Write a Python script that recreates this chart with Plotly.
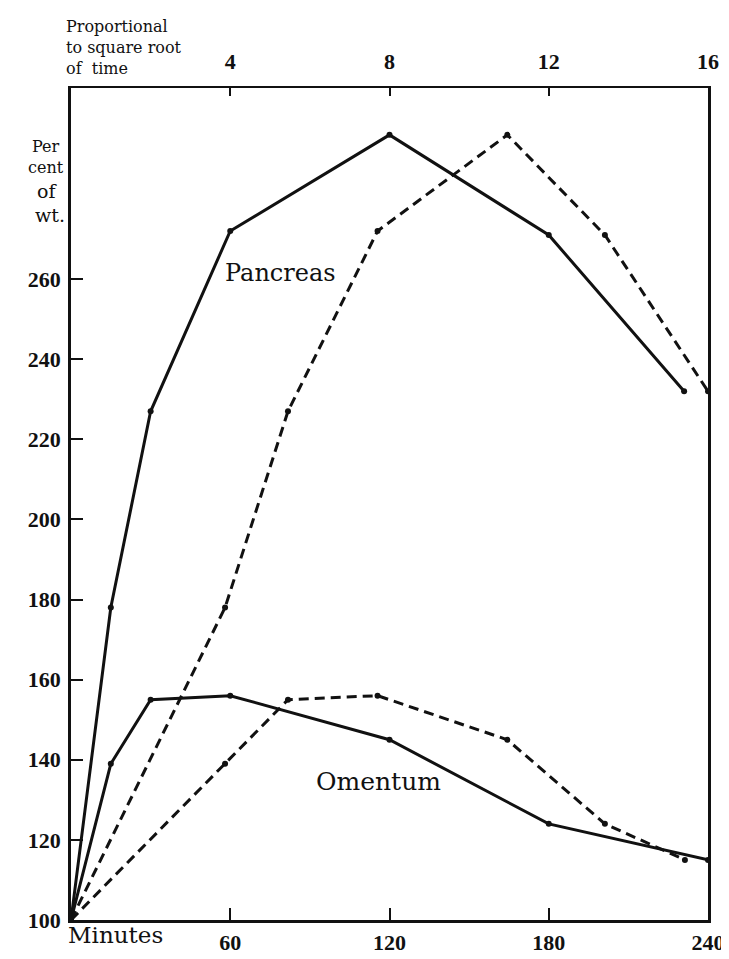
import plotly.graph_objects as go

# --- data ---
minutes_ticks = [60, 120, 180, 240]
sqrt_ticks = [4, 8, 12, 16]
y_ticks = [100, 120, 140, 160, 180, 200, 220, 240, 260]

# solid lines: plotted against time in minutes (bottom axis)
pancreas_minutes = [0, 15, 30, 60, 120, 180, 231]
pancreas_values = [100, 178, 227, 272, 296, 271, 232]
omentum_minutes = [0, 15, 30, 60, 120, 180, 240]
omentum_values = [100, 139, 155, 156, 145, 124, 115]

# dashed lines: same values plotted proportional to square root of time (top axis)
pancreas_sqrt = [0, 3.87, 5.45, 7.7, 10.96, 13.41, 16.0]
omentum_sqrt = [0, 3.87, 5.45, 7.7, 10.96, 13.41, 15.42]

FONT = "DejaVu Serif"
NUMFONT = "Liberation Serif"
BLACK = "#111111"

fig = go.Figure()

line_w = 3
marker = dict(size=6, color=BLACK)

fig.add_trace(go.Scatter(x=pancreas_minutes, y=pancreas_values, mode="lines+markers",
                         line=dict(color=BLACK, width=line_w), marker=marker,
                         xaxis="x", yaxis="y", showlegend=False, cliponaxis=False))
fig.add_trace(go.Scatter(x=omentum_minutes, y=omentum_values, mode="lines+markers",
                         line=dict(color=BLACK, width=line_w), marker=marker,
                         xaxis="x", yaxis="y", showlegend=False, cliponaxis=False))
fig.add_trace(go.Scatter(x=pancreas_sqrt, y=pancreas_values, mode="lines+markers",
                         line=dict(color=BLACK, width=line_w, dash="10px,6px"), marker=marker,
                         xaxis="x2", yaxis="y", showlegend=False, cliponaxis=False))
fig.add_trace(go.Scatter(x=omentum_sqrt, y=omentum_values, mode="lines+markers",
                         line=dict(color=BLACK, width=line_w, dash="10px,6px"), marker=marker,
                         xaxis="x2", yaxis="y", showlegend=False, cliponaxis=False))

tickfont = dict(family=NUMFONT, size=22, color=BLACK, weight="bold")

fig.update_layout(
    width=729, height=959,
    margin=dict(l=63, r=19, t=80, b=26, pad=0),
    paper_bgcolor="white", plot_bgcolor="white",
    font=dict(family=FONT, color=BLACK),
    xaxis=dict(range=[0, 240], tickvals=minutes_ticks, ticktext=[str(v) for v in minutes_ticks],
               ticks="inside", ticklen=12, tickwidth=2, tickcolor=BLACK,
               showline=True, linewidth=2.5, linecolor=BLACK, mirror=False,
               showgrid=False, zeroline=False, tickfont=tickfont, ticklabelstandoff=1),
    xaxis2=dict(range=[0, 16], overlaying="x", side="top", tickvals=sqrt_ticks,
                ticktext=[str(v) for v in sqrt_ticks],
                ticks="inside", ticklen=8, tickwidth=2, tickcolor=BLACK,
                showline=True, linewidth=2, linecolor=BLACK,
                showgrid=False, zeroline=False, tickfont=tickfont, ticklabelstandoff=8),
    yaxis=dict(range=[100, 307.7], tickvals=y_ticks, ticktext=[str(v) for v in y_ticks],
               ticks="inside", ticklen=12, tickwidth=2, tickcolor=BLACK,
               showline=True, linewidth=2.5, linecolor=BLACK, mirror=True,
               showgrid=False, zeroline=False, tickfont=tickfont, ticklabelstandoff=3),
)


def py(pix):
    """paper y from a pixel row of the 959-high figure (plot area 80..933)"""
    return (933 - pix) / 853


def px(pix):
    return (pix - 63) / 647


annots = [
    dict(text="Proportional<br>to square root<br>of  time", xref="paper", yref="paper",
         x=px(56), y=py(5), xanchor="left", yanchor="top", align="left",
         font=dict(family=FONT, size=16, color=BLACK), showarrow=False),
    dict(text="Per<br>cent", xref="paper", yref="paper", x=px(38), y=py(128),
         xanchor="center", yanchor="top", align="center",
         font=dict(family=FONT, size=16, color=BLACK), showarrow=False),
    dict(text="of", xref="paper", yref="paper", x=px(39), y=py(186),
         xanchor="center", yanchor="middle", font=dict(family=FONT, size=19, color=BLACK), showarrow=False),
    dict(text="wt.", xref="paper", yref="paper", x=px(42), y=py(210),
         xanchor="center", yanchor="middle", font=dict(family=FONT, size=19, color=BLACK), showarrow=False),
    dict(text="Minutes", xref="paper", yref="paper", x=px(58), y=py(948),
         xanchor="left", yanchor="middle", font=dict(family=FONT, size=23, color=BLACK), showarrow=False),
    dict(text="Pancreas", xref="x", yref="y", x=79, y=261.6,
         xanchor="center", yanchor="middle", font=dict(family=FONT, size=24, color=BLACK), showarrow=False),
    dict(text="Omentum", xref="x", yref="y", x=116, y=134.5,
         xanchor="center", yanchor="middle", font=dict(family=FONT, size=25, color=BLACK), showarrow=False),
]
fig.update_layout(annotations=annots)

fig.write_html("out.html")
